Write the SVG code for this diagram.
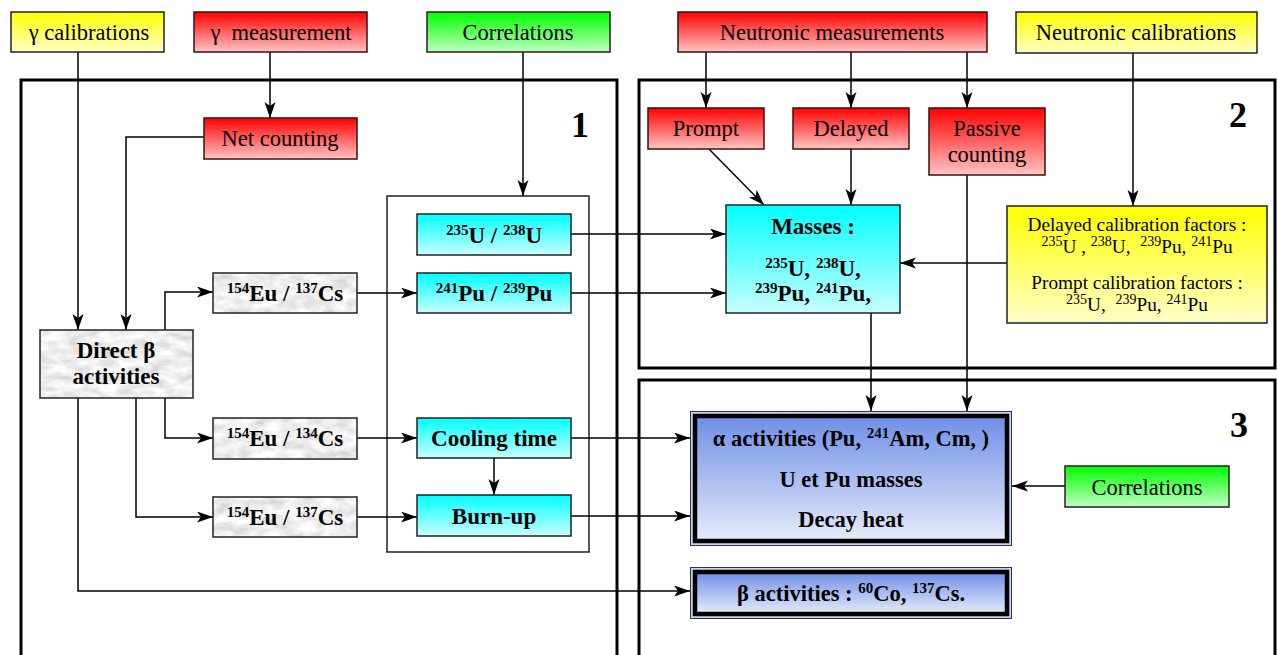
<svg xmlns="http://www.w3.org/2000/svg" width="1278" height="655" viewBox="0 0 1278 655">
<defs>
<linearGradient id="gRed" x1="0" y1="0" x2="0" y2="1"><stop offset="0" stop-color="#ff0000"/><stop offset="1" stop-color="#ffc4c4"/></linearGradient>
<linearGradient id="gYel" x1="0" y1="0" x2="0" y2="1"><stop offset="0" stop-color="#ffff00"/><stop offset="1" stop-color="#ffffc8"/></linearGradient>
<linearGradient id="gGrn" x1="0" y1="0" x2="0" y2="1"><stop offset="0" stop-color="#00ff00"/><stop offset="1" stop-color="#c0ffc0"/></linearGradient>
<linearGradient id="gCyan" x1="0" y1="0" x2="0" y2="1"><stop offset="0" stop-color="#00ffff"/><stop offset="1" stop-color="#c8ffff"/></linearGradient>
<linearGradient id="gBlue" x1="0" y1="0" x2="0" y2="1"><stop offset="0" stop-color="#6f8ee6"/><stop offset="1" stop-color="#e6ecfb"/></linearGradient>
<filter id="marble" x="0" y="0" width="1" height="1">
<feTurbulence type="fractalNoise" baseFrequency="0.06 0.12" numOctaves="4" seed="5" result="n"/>
<feColorMatrix in="n" type="matrix" values="0.6 0 0 0 0.56  0.6 0 0 0 0.56  0.6 0 0 0 0.56  0 0 0 0 1" result="g"/>
<feComposite in="g" in2="SourceGraphic" operator="in"/>
</filter>
<marker id="ah" markerUnits="userSpaceOnUse" markerWidth="17" markerHeight="12" refX="16" refY="5.5" orient="auto">
<path d="M0,0 L16,5.5 L0,11 L4,5.5 z" fill="#000"/>
</marker>
<style>
.panel{fill:none;stroke:#000;stroke-width:3}
.box{stroke:#3a1010;stroke-width:1.5}
.bx{stroke:#222;stroke-width:1.5}
.t{font-family:"Liberation Serif","Times New Roman",serif;font-size:22.5px;fill:#000;text-anchor:middle}
.b{font-family:"Liberation Serif","Times New Roman",serif;font-size:23px;font-weight:bold;fill:#000;text-anchor:middle}
.s{font-size:15px}
.c{font-family:"Liberation Serif","Times New Roman",serif;font-size:19.3px;fill:#000;text-anchor:middle}
.cs{font-size:14px}
.num{font-family:"Liberation Serif","Times New Roman",serif;font-size:36px;font-weight:bold;fill:#000;text-anchor:middle}
.con{fill:none;stroke:#000;stroke-width:1.5}
.arr{marker-end:url(#ah)}
</style>
</defs>
<rect width="1278" height="655" fill="#fff"/>

<g id="panels">
<rect class="panel" x="21" y="80" width="596" height="620"/>
<rect class="panel" x="639" y="80" width="636" height="288"/>
<rect class="panel" x="639" y="380" width="636" height="320"/>
<text class="num" x="580" y="137">1</text>
<text class="num" x="1238" y="127">2</text>
<text class="num" x="1239" y="437">3</text>
<rect x="387" y="196" width="202" height="356" fill="none" stroke="#222" stroke-width="1.5"/>
</g>

<g id="connectors">
<path class="con arr" d="M78,52 V330"/>
<path class="con arr" d="M78,398 V591 H690"/>
<path class="con arr" d="M270,52 V118"/>
<path class="con arr" d="M204,137 H126 V330"/>
<path class="con arr" d="M165,330 V292 H213"/>
<path class="con arr" d="M165,398 V438 H213"/>
<path class="con arr" d="M136,398 V517 H213"/>
<path class="con arr" d="M357,293 H417"/>
<path class="con arr" d="M357,438 H417"/>
<path class="con arr" d="M357,517 H417"/>
<path class="con arr" d="M523,52 V196"/>
<path class="con arr" d="M571,234 H726"/>
<path class="con arr" d="M571,293 H726"/>
<path class="con arr" d="M571,438 H690"/>
<path class="con arr" d="M571,516 H690"/>
<path class="con arr" d="M494,458 V495"/>
<path class="con arr" d="M706,52 V108"/>
<path class="con arr" d="M851,52 V108"/>
<path class="con arr" d="M967,52 V108"/>
<path class="con arr" d="M709,149 L764,205"/>
<path class="con arr" d="M851,149 V205"/>
<path class="con arr" d="M967,175 V411"/>
<path class="con arr" d="M871,313 V411"/>
<path class="con arr" d="M1133,53 V206"/>
<path class="con arr" d="M1007,263 H900"/>
<path class="con arr" d="M1065,486 H1012"/>
</g>

<g id="gamma-calibrations">
<rect class="bx" x="11" y="12" width="153" height="40" fill="url(#gYel)"/>
<text class="t" x="89" y="40">γ calibrations</text>
</g>
<g id="gamma-measurement">
<rect class="box" x="194" y="12" width="173" height="40" fill="url(#gRed)"/>
<text class="t" x="281" y="40" xml:space="preserve">γ  measurement</text>
</g>
<g id="correlations-top">
<rect class="bx" x="427" y="12" width="183" height="40" fill="url(#gGrn)"/>
<text class="t" x="518" y="40">Correlations</text>
</g>
<g id="neutronic-measurements">
<rect class="box" x="678" y="12" width="309" height="40" fill="url(#gRed)"/>
<text class="t" x="832" y="40">Neutronic measurements</text>
</g>
<g id="neutronic-calibrations">
<rect class="bx" x="1016" y="12" width="241" height="41" fill="url(#gYel)"/>
<text class="t" x="1136" y="40">Neutronic calibrations</text>
</g>

<g id="net-counting">
<rect class="box" x="204" y="118" width="153" height="41" fill="url(#gRed)"/>
<text class="t" x="280" y="146">Net counting</text>
</g>

<g id="direct-beta">
<rect x="40" y="330" width="153" height="68" fill="#ddd" filter="url(#marble)"/>
<rect class="bx" x="40" y="330" width="153" height="68" fill="none"/>
<text class="b" x="116" y="358">Direct β</text>
<text class="b" x="116" y="384">activities</text>
</g>

<g id="eu-cs-137-a">
<rect x="213" y="273" width="144" height="40" fill="#ddd" filter="url(#marble)"/>
<rect class="bx" x="213" y="273" width="144" height="40" fill="none"/>
<text class="b" x="285" y="301"><tspan class="s" dy="-8">154</tspan><tspan dy="8">Eu / </tspan><tspan class="s" dy="-8">137</tspan><tspan dy="8">Cs</tspan></text>
</g>
<g id="eu-cs-134">
<rect x="213" y="418" width="144" height="41" fill="#ddd" filter="url(#marble)"/>
<rect class="bx" x="213" y="418" width="144" height="41" fill="none"/>
<text class="b" x="285" y="446"><tspan class="s" dy="-8">154</tspan><tspan dy="8">Eu / </tspan><tspan class="s" dy="-8">134</tspan><tspan dy="8">Cs</tspan></text>
</g>
<g id="eu-cs-137-b">
<rect x="213" y="497" width="144" height="40" fill="#ddd" filter="url(#marble)"/>
<rect class="bx" x="213" y="497" width="144" height="40" fill="none"/>
<text class="b" x="285" y="525"><tspan class="s" dy="-8">154</tspan><tspan dy="8">Eu / </tspan><tspan class="s" dy="-8">137</tspan><tspan dy="8">Cs</tspan></text>
</g>

<g id="u235-u238">
<rect class="bx" x="417" y="214" width="154" height="41" fill="url(#gCyan)"/>
<text class="b" x="494" y="243"><tspan class="s" dy="-8">235</tspan><tspan dy="8">U / </tspan><tspan class="s" dy="-8">238</tspan><tspan dy="8">U</tspan></text>
</g>
<g id="pu241-pu239">
<rect class="bx" x="417" y="273" width="154" height="40" fill="url(#gCyan)"/>
<text class="b" x="494" y="301"><tspan class="s" dy="-8">241</tspan><tspan dy="8">Pu / </tspan><tspan class="s" dy="-8">239</tspan><tspan dy="8">Pu</tspan></text>
</g>
<g id="cooling-time">
<rect class="bx" x="417" y="418" width="154" height="40" fill="url(#gCyan)"/>
<text class="b" x="494" y="446">Cooling time</text>
</g>
<g id="burn-up">
<rect class="bx" x="417" y="495" width="154" height="41" fill="url(#gCyan)"/>
<text class="b" x="494" y="524">Burn-up</text>
</g>

<g id="prompt">
<rect class="box" x="648" y="108" width="116" height="41" fill="url(#gRed)"/>
<text class="t" x="706" y="136">Prompt</text>
</g>
<g id="delayed">
<rect class="box" x="793" y="108" width="116" height="41" fill="url(#gRed)"/>
<text class="t" x="851" y="136">Delayed</text>
</g>
<g id="passive-counting">
<rect class="box" x="929" y="108" width="116" height="67" fill="url(#gRed)"/>
<text class="t" x="987" y="136">Passive</text>
<text class="t" x="987" y="162">counting</text>
</g>

<g id="masses">
<rect class="bx" x="726" y="205" width="174" height="108" fill="url(#gCyan)"/>
<text class="b" x="813" y="234">Masses :</text>
<text class="b" x="813" y="276"><tspan class="s" dy="-8">235</tspan><tspan dy="8">U, </tspan><tspan class="s" dy="-8">238</tspan><tspan dy="8">U,</tspan></text>
<text class="b" x="813" y="301"><tspan class="s" dy="-8">239</tspan><tspan dy="8">Pu, </tspan><tspan class="s" dy="-8">241</tspan><tspan dy="8">Pu,</tspan></text>
</g>

<g id="calibration-factors">
<rect class="bx" x="1007" y="206" width="260" height="117" fill="url(#gYel)"/>
<text class="c" x="1137" y="231">Delayed calibration factors :</text>
<text class="c" x="1137" y="253" xml:space="preserve"><tspan class="cs" dy="-7">235</tspan><tspan dy="7">U , </tspan><tspan class="cs" dy="-7">238</tspan><tspan dy="7">U,  </tspan><tspan class="cs" dy="-7">239</tspan><tspan dy="7">Pu, </tspan><tspan class="cs" dy="-7">241</tspan><tspan dy="7">Pu</tspan></text>
<text class="c" x="1137" y="289">Prompt calibration factors :</text>
<text class="c" x="1137" y="311" xml:space="preserve"><tspan class="cs" dy="-7">235</tspan><tspan dy="7">U,  </tspan><tspan class="cs" dy="-7">239</tspan><tspan dy="7">Pu, </tspan><tspan class="cs" dy="-7">241</tspan><tspan dy="7">Pu</tspan></text>
</g>

<g id="alpha-activities">
<rect x="690.5" y="411.5" width="321" height="134" fill="#c8d4f4" stroke="#334" stroke-width="1"/>
<rect x="695" y="416" width="312" height="125" fill="url(#gBlue)" stroke="#000" stroke-width="4.5"/>
<text class="b" x="851" y="446" style="font-size:22.5px">α activities (Pu, <tspan class="s" dy="-8">241</tspan><tspan dy="8">Am, Cm, )</tspan></text>
<text class="b" x="851" y="487" style="font-size:22.5px">U et Pu masses</text>
<text class="b" x="851" y="527" style="font-size:22.5px">Decay heat</text>
</g>

<g id="beta-activities">
<rect x="690.5" y="567.5" width="321" height="51" fill="#c8d4f4" stroke="#334" stroke-width="1"/>
<rect x="695" y="572" width="312" height="42" fill="url(#gBlue)" stroke="#000" stroke-width="4.5"/>
<text class="b" x="851" y="601" style="font-size:22.5px">β activities : <tspan class="s" dy="-8">60</tspan><tspan dy="8">Co, </tspan><tspan class="s" dy="-8">137</tspan><tspan dy="8">Cs.</tspan></text>
</g>

<g id="correlations-right">
<rect class="bx" x="1065" y="466" width="164" height="41" fill="url(#gGrn)"/>
<text class="t" x="1147" y="495">Correlations</text>
</g>
</svg>
